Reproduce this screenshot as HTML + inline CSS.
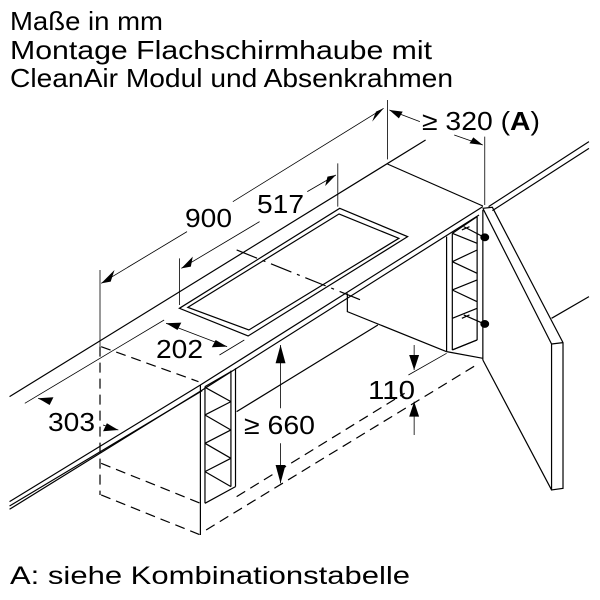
<!DOCTYPE html>
<html><head><meta charset="utf-8"><style>
html,body{margin:0;padding:0;background:#fff;}
svg{display:block;}
text{font-family:"Liberation Sans",Arial,sans-serif;fill:#000;}
</style></head><body>
<svg width="600" height="600" viewBox="0 0 600 600" xmlns="http://www.w3.org/2000/svg">
<text x="10" y="30" font-size="26" textLength="153" lengthAdjust="spacingAndGlyphs">Maße in mm</text>
<text x="10" y="59" font-size="26" textLength="422" lengthAdjust="spacingAndGlyphs">Montage Flachschirmhaube mit</text>
<text x="10" y="87" font-size="26" textLength="443" lengthAdjust="spacingAndGlyphs">CleanAir Modul und Absenkrahmen</text>
<text x="10" y="584" font-size="25" textLength="400" lengthAdjust="spacingAndGlyphs">A:  siehe Kombinationstabelle</text>

<g transform="translate(0,100) scale(0.3817,0.3333)" fill="none" stroke="#000" stroke-width="1.2" >
<g>
<path vector-effect="non-scaling-stroke" d="M1115,120 L25,890"/>
<path vector-effect="non-scaling-stroke" d="M1265,320 L525,855 L25,1205"/>
<path vector-effect="non-scaling-stroke" d="M1255,345 L530,870 L25,1228"/>
<path vector-effect="non-scaling-stroke" d="M530,872 L25,1218"/>
<path vector-effect="non-scaling-stroke" d="M1015,192 L1265,318"/>
<path vector-effect="non-scaling-stroke" d="M1280,320 L1543,125 M1290,332 L1543,145 M1445,655 L1543,590"/>
<path vector-effect="non-scaling-stroke" d="M890,325 L1068,410 L650,708 L470,625 Z"/>
<path vector-effect="non-scaling-stroke" d="M888,342 L1045,415 L652,690 L492,622 Z"/>
<path vector-effect="non-scaling-stroke" stroke-dasharray="22,6,3,6" d="M620,450 L945,600"/>
<path vector-effect="non-scaling-stroke" d="M910,580 L910,635 L1170,755"/>
<path vector-effect="non-scaling-stroke" d="M990,675 L620,935"/>
<path vector-effect="non-scaling-stroke" d="M1170,410 L1170,755 M1185,400 L1185,750 M1250,350 L1250,720 M1265,330 L1265,780 M1170,755 L1265,775 M1185,750 L1250,720"/>
<path vector-effect="non-scaling-stroke" d="M1185,400 L1250,350 M1185,485 L1250,450 M1185,570 L1250,540 M1185,655 L1250,625 M1185,750 L1250,720 M1185,400 L1250,430 M1185,485 L1250,520 M1185,570 L1250,605"/>
<path vector-effect="non-scaling-stroke" d="M1215,380 L1265,410 M1215,645 L1265,670 M1210,390 L1230,380 M1210,655 L1230,645"/>
<circle vector-effect="non-scaling-stroke" cx="1270" cy="412" r="10" fill="#000"/>
<circle vector-effect="non-scaling-stroke" cx="1270" cy="672" r="10" fill="#000"/>
<path vector-effect="non-scaling-stroke" d="M1265,325 L1290,322 L1475,728 L1475,1165 L1445,1170 L1445,732 L1265,325 M1445,732 L1475,728 M1265,780 L1445,1170"/>
<path vector-effect="non-scaling-stroke" d="M525,855 L525,1305 M537,860 L537,1210 M605,812 L605,1160 M617,805 L617,1160 M537,1210 L617,1160"/>
<path vector-effect="non-scaling-stroke" d="M537,860 L605,815 M537,945 L605,905 M537,1030 L605,990 M537,1115 L605,1075 M537,862 L605,905 M537,945 L605,990 M537,1030 L605,1075 M537,1115 L605,1160"/>
<path vector-effect="non-scaling-stroke" stroke-dasharray="10,6" d="M265,740 L520,845 M265,1090 L525,1210 M265,1185 L525,1305 M262,740 L262,1185 M540,1290 L1255,790 M620,1190 L1060,880"/>
<path vector-effect="non-scaling-stroke" stroke-width="0.8" d="M262,510 L262,740 M470,475 L470,615 M885,190 L885,320 M1015,0 L1015,178 M1270,110 L1270,315 M65,910 L430,660 M575,765 L640,720 M1070,825 L1170,760"/>
<path vector-effect="non-scaling-stroke" stroke-width="0.8" d="M265,550 L490,395 M610,305 L1005,25 M475,505 L680,365 M805,275 L880,225 M1020,30 L1100,65 M1190,105 L1265,135 M435,670 L595,740 M100,895 L130,910 M270,975 L310,990 M735,735 L735,925 M735,1030 L735,1150 M1085,735 L1085,810 M1085,905 L1085,1005"/>
</g>
<g fill="#000" stroke="none">
<path d="M265,550 L300,510 L290,545 Z"/>
<path d="M1005,25 L975,65 L985,35 Z"/>
<path d="M475,505 L505,470 L500,500 Z"/>
<path d="M880,225 L852,258 L858,230 Z"/>
<path d="M1020,30 L1055,35 L1045,55 Z"/>
<path d="M1265,135 L1230,130 L1240,112 Z"/>
<path d="M435,670 L475,668 L465,690 Z"/>
<path d="M595,740 L555,742 L565,720 Z"/>
<path d="M100,895 L140,892 L130,915 Z"/>
<path d="M310,990 L270,994 L280,970 Z"/>
<path d="M735,735 L748,790 L722,790 Z"/>
<path d="M735,1150 L722,1095 L748,1095 Z"/>
<path d="M1085,810 L1072,765 L1098,765 Z"/>
<path d="M1085,905 L1098,950 L1072,950 Z"/>
</g>
</g>

<text x="422" y="130" font-size="26" textLength="118" lengthAdjust="spacingAndGlyphs">≥ 320 (<tspan font-weight="bold">A</tspan>)</text>
<text x="185" y="227" font-size="26" textLength="47" lengthAdjust="spacingAndGlyphs">900</text>
<text x="257" y="213" font-size="26" textLength="47" lengthAdjust="spacingAndGlyphs">517</text>
<text x="156" y="358" font-size="26" textLength="47" lengthAdjust="spacingAndGlyphs">202</text>
<text x="48" y="431" font-size="26" textLength="47" lengthAdjust="spacingAndGlyphs">303</text>
<text x="244" y="434" font-size="26" textLength="71" lengthAdjust="spacingAndGlyphs">≥ 660</text>
<text x="368" y="399" font-size="26" textLength="47" lengthAdjust="spacingAndGlyphs">110</text>
</svg>
</body></html>
